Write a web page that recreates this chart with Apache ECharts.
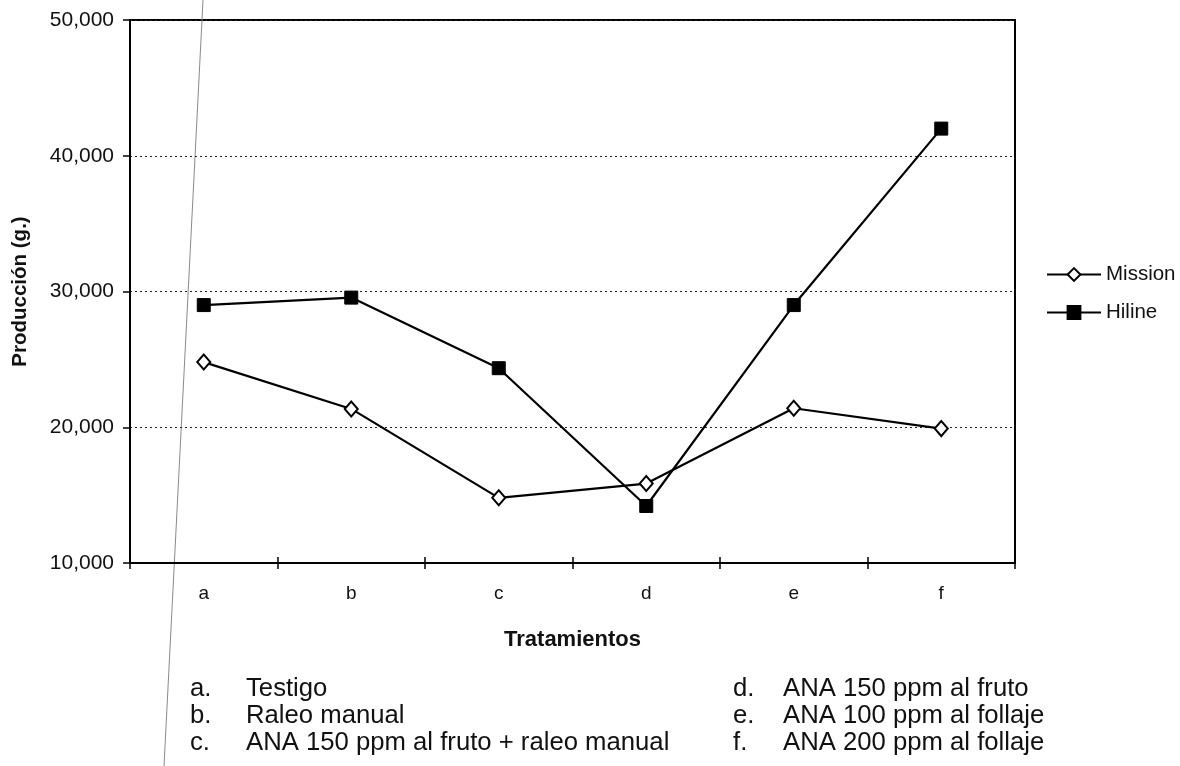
<!DOCTYPE html>
<html>
<head>
<meta charset="utf-8">
<script src="https://cdn.jsdelivr.net/npm/echarts@6/dist/echarts.min.js"></script>
<style>
  html, body { margin: 0; padding: 0; background: #fff; }
  #chart { width: 1180px; height: 766px; }
</style>
</head>
<body>
<div id="chart"></div>
<script>
// Treatments on the category axis
const categories = ['a', 'b', 'c', 'd', 'e', 'f'];

// Production per treatment, grams
const mission = [24800, 21350, 14800, 15850, 21400, 19900];
const hiline = [29000, 29550, 24350, 14200, 29000, 42000];

// Value axis range and step
const yMin = 10000;
const yMax = 50000;
const yStep = 10000;

// Treatment key printed under the chart
const notesLeft = [
  ['a.', 'Testigo'],
  ['b.', 'Raleo manual'],
  ['c.', 'ANA 150 ppm al fruto + raleo manual']
];
const notesRight = [
  ['d.', 'ANA 150 ppm al fruto'],
  ['e.', 'ANA 100 ppm al follaje'],
  ['f.', 'ANA 200 ppm al follaje']
];

const FONT = '"Liberation Sans", Arial, Helvetica, sans-serif';
const INK = '#111';

const chart = echarts.init(document.getElementById('chart'), null, { renderer: 'canvas' });

function fmt(v) {
  return String(v).replace(/\B(?=(\d{3})+(?!\d))/g, ',');
}

// Key lines: letter column + description column
const noteGraphics = [];
const noteRows = [676, 703, 730];
function addNotes(list, xLetter, xText) {
  list.forEach((n, i) => {
    noteGraphics.push({
      type: 'text', left: xLetter, top: noteRows[i], silent: true,
      style: { text: n[0], font: '25.7px ' + FONT, fill: INK }
    });
    noteGraphics.push({
      type: 'text', left: xText, top: noteRows[i], silent: true,
      style: { text: n[1], font: '25.7px ' + FONT, fill: INK }
    });
  });
}
addNotes(notesLeft, 190, 246);
addNotes(notesRight, 733, 783);

const option = {
  backgroundColor: '#fff',
  animation: false,
  textStyle: { fontFamily: FONT, color: INK },
  grid: {
    left: 130, right: 165, top: 20, bottom: 203,
    show: true, borderColor: '#000', borderWidth: 2, backgroundColor: 'transparent'
  },
  legend: {
    orient: 'vertical',
    left: 1041, top: 259,
    itemWidth: 54, itemHeight: 16, itemGap: 17,
    textStyle: { fontFamily: FONT, fontSize: 20.5, color: INK },
    data: ['Mission', 'Hiline']
  },
  xAxis: [
    {
      type: 'category',
      data: categories,
      boundaryGap: true,
      axisLine: { show: true, lineStyle: { color: '#000', width: 2 } },
      axisTick: { show: true, inside: false, length: 6, lineStyle: { color: '#000', width: 1.5 } },
      axisLabel: { margin: 21, fontSize: 19, fontFamily: FONT, color: INK },
      splitLine: { show: false },
      name: 'Tratamientos',
      nameLocation: 'middle',
      nameGap: 66,
      nameTextStyle: { fontFamily: FONT, fontSize: 22, fontWeight: 'bold', color: INK }
    },
    {
      // inner half of the crossing tick marks
      type: 'category',
      data: categories,
      position: 'bottom',
      boundaryGap: true,
      axisLine: { show: false },
      axisTick: { show: true, inside: true, length: 6, lineStyle: { color: '#000', width: 1.5 } },
      axisLabel: { show: false },
      splitLine: { show: false }
    }
  ],
  yAxis: {
    type: 'value',
    min: yMin, max: yMax, interval: yStep,
    axisLine: { show: true, lineStyle: { color: '#000', width: 2 } },
    axisTick: { show: true, inside: false, length: 7, lineStyle: { color: '#000', width: 1.5 } },
    axisLabel: { margin: 16, fontSize: 21, fontFamily: FONT, color: INK, formatter: fmt },
    splitLine: { show: true, lineStyle: { color: '#222', width: 1, type: [2, 3] } },
    name: 'Producción (g.)',
    nameLocation: 'middle',
    nameGap: 99,
    nameTextStyle: { fontFamily: FONT, fontSize: 20.5, fontWeight: 'bold', color: INK }
  },
  series: [
    {
      name: 'Mission',
      type: 'line',
      data: mission,
      symbol: 'diamond',
      symbolSize: [13, 15],
      lineStyle: { color: '#000', width: 2.2 },
      itemStyle: { color: '#fff', borderColor: '#000', borderWidth: 2 },
      z: 3
    },
    {
      name: 'Hiline',
      type: 'line',
      data: hiline,
      symbol: 'rect',
      symbolSize: 13,
      lineStyle: { color: '#000', width: 2.2 },
      itemStyle: { color: '#000', borderColor: '#000', borderWidth: 1 },
      z: 4
    }
  ],
  graphic: [
    // faint margin rule running down the page
    {
      type: 'line', silent: true, z: 0,
      shape: { x1: 203, y1: 0, x2: 164, y2: 766 },
      style: { stroke: '#8a8a8a', lineWidth: 1 }
    }
  ].concat(noteGraphics)
};

chart.setOption(option);
</script>
</body>
</html>
